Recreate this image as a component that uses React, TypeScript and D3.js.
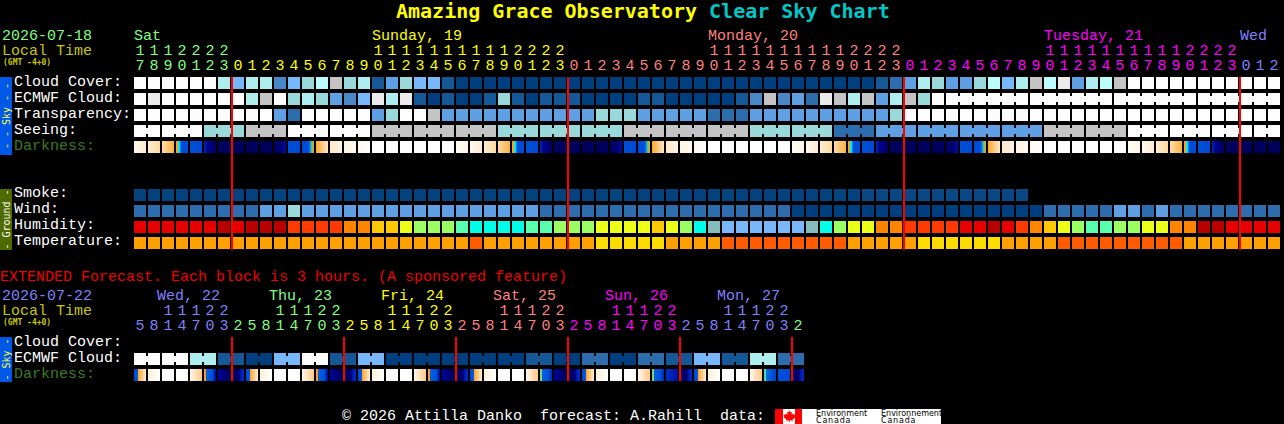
import React from 'react';
import * as d3 from 'd3';

const WIDTH = 1284;
const HEIGHT = 424;
const MONO = '"Liberation Mono", monospace';
const TITLE_FONT = '"DejaVu Sans Mono", monospace';

// one letter per hour block
const codes = (s: string) => s.split(/\s*/);

const cloudCover = codes('WWWWWWDLDD NLTCGTDPMT LLPQQQQQQQ QQQQQQQQQQ QQQQQQQQQQ QQQPOMDTMM TCLDGCEMDC GWWWWWWWWW WW');
const ecmwfCloud = codes('WEWWWWWWDG WTDTMNLEDE PQPQQPTPQP PPQQQQPPQQ QQQPNGNMOE GDGMDGTWWW WWWWWWWWWW WWWWWWWWWW WW');
const transparency = codes('WWWWWWWWWW MOWWWWWMTW WGMMMMMMMM MMMTTTMMMM MOOOMMMMMM MMMMTWWWWW WWWWWWWWWW WWWWWWWWWW WW');
const seeingSpans = [2, 3, 3, 3, 3, 3, 3, 3, 3, 3, 3, 3, 3, 3, 3, 3, 3, 3, 3, 3, 3, 3, 3, 3, 3, 3, 3, 2];
const seeing = codes('WWTGWWGGGTTTGGGTTOMMMMGGWWWW');
const ecmwfSpans = [1, 1, 1, 1, 1, 1, 1, 1, 1, 1, 1, 1, 1, 1, 1, 1, 1, 1, 1, 1, 1, 1, 1, 1, 1, 1, 1, 1, 1, 1, 1, 1, 1, 1, 1, 1, 1, 1, 1, 1, 1, 1, 1, 1, 1, 1, 1, 1, 1, 1, 1, 1, 1, 1, 1, 1, 1, 1, 6, 6, 6, 6];
const darkness = codes('egdsbknnnn hbruvxywww wwwfegdsbk nnnnhbruvx ywwwwwwfeg dsbknnnnhb ruvxywwwww wfegdsbknn nn');
const smoke = codes('SSSSSSSSSS SSSSSSSSSS SSSSSSSSSS SSSSSSSSSS SSSSSSSSSS SSBBBBBBBB BBBB');
const wind = codes('OOOOOOOOOM MTMMMMMMMM MMMMMMMMMO OOOOOOOOOO OOOOOOOQQQ QQQQQQQQQQ QQQQQOOOOO MMOMOOOOOO OO');
const humidity = codes('RRRRRRBRBB BAAAAFFHHY VVVXZZZZXX VVVYYYYHYV ZUJJJJJJUZ VYYFFAAAAR RBRAFHYVXX VVYYFFBBRR RR');
const temperature = codes('aaaaaaaaaa aaaaaaaaaa aaaaoaaaaa aaayyyyyaa aaoooooooo oaaaaayyyy yyaaaaoooo oooooaaaaa aa');

const hours = [17, 18, 19, 20, 21, 22, 23].concat(
  d3.range(3).flatMap(() => d3.range(24)),
  [0, 1, 2],
);
const extHours = d3.range(6).flatMap(() => [5, 8, 11, 14, 17, 20, 23, 2]);

const extEcmwfSpans = d3.range(24).map(() => 2);
const extEcmwf = codes('WWDPQLWPLQQQQQPQOQOPLPDO');
const extDarkness = codes('pVwwqzKH pVwwqzKH pVwwqzKH pVwwqGKH pVwwqGjH pVwwqTbH');

const dayColors = ['#80ff80', '#ffff00', '#ff8080', '#ff00ff', '#8080ff'];
const mainDays = [
  { label: 'Sat', col: 0, color: dayColors[0] },
  { label: 'Sunday, 19', col: 17, color: dayColors[1] },
  { label: 'Monday, 20', col: 41, color: dayColors[2] },
  { label: 'Tuesday, 21', col: 65, color: dayColors[3] },
  { label: 'Wed', col: 79, color: dayColors[4] },
];
const extDays = [
  { label: 'Wed, 22', col: 2, color: '#8080ff' },
  { label: 'Thu, 23', col: 10, color: '#80ff80' },
  { label: 'Fri, 24', col: 18, color: '#ffff00' },
  { label: 'Sat, 25', col: 26, color: '#ff8080' },
  { label: 'Sun, 26', col: 34, color: '#ff00ff' },
  { label: 'Mon, 27', col: 42, color: '#8080ff' },
];
const extDayStarts = [0, 7, 15, 23, 31, 39, 47];
const extDayColors = ['#8080ff', '#80ff80', '#ffff00', '#ff8080', '#ff00ff', '#8080ff', '#80ff80'];

const blockColor = d3
  .scaleOrdinal<string, string>()
  .domain(['W', 'E', 'G', 'C', 'D', 'T', 'L', 'M', 'N', 'O', 'P', 'Q', 'S', 'B', 'R', 'K', 'A', 'F', 'H', 'Y', 'V', 'X', 'Z', 'U', 'J', 'a', 'y', 'o'])
  .range(['#fdfdfd', '#ebebeb', '#c4c4c4', '#bcfcfc', '#aeeeee', '#99d9d9', '#77b7fb', '#5f9fe3', '#4a87c7', '#2d6dad', '#145898', '#003f7f', '#05437f', '#0a4885', '#e60000', '#b80000', '#ff3a00', '#ff8400', '#ffc800', '#ebff17', '#9aff62', '#58ffae', '#00ffe8', '#85bdbd', '#7ab6fa', '#ffa000', '#ffdc00', '#ff5c00']);
// humidity uses its own dark red under the letter B
const humidityColor = (c: string) => (c === 'B' ? '#b80000' : blockColor(c));

const darknessStops: Record<string, [number, string][]> = {
  w: [[0, '#ffffff'], [1, '#ffffff']],
  f: [[0, '#fffdf8'], [1, '#fff4e4']],
  e: [[0, '#fff8ee'], [1, '#ffecd0']],
  g: [[0, '#ffeccf'], [1, '#ffd9a0']],
  d: [[0, '#ffdca8'], [1, '#ffb040']],
  s: [[0, '#ffa020'], [0.15, '#ffa020'], [0.2, '#00e8ff'], [0.33, '#00e8ff'], [0.4, '#0050e0'], [1, '#0048d8']],
  b: [[0, '#0050d8'], [1, '#0048d8']],
  k: [[0, '#0028b8'], [0.3, '#000090'], [1, '#000060']],
  n: [[0, '#000058'], [1, '#000064']],
  h: [[0, '#000060'], [0.6, '#000070'], [1, '#0010a8']],
  r: [[0, '#0048d8'], [0.55, '#0050e0'], [0.7, '#00a0e0'], [0.8, '#60c080'], [1, '#ffa020']],
  u: [[0, '#ffa830'], [1, '#ffe8c8']],
  v: [[0, '#ffe8c8'], [1, '#fff4e4']],
  x: [[0, '#fff4e4'], [1, '#fff9f0']],
  y: [[0, '#fff9f0'], [1, '#fffefc']],
  p: [[0, '#0048d8'], [0.3, '#0058d8'], [0.36, '#ffa830'], [1, '#ffeed8']],
  V: [[0, '#fff0dc'], [1, '#ffffff']],
  q: [[0, '#fff8f0'], [1, '#ffc880']],
  z: [[0, '#ff9820'], [0.15, '#ff9820'], [0.2, '#0060e0'], [0.7, '#0050d8'], [1, '#0000a0']],
  G: [[0, '#80d080'], [0.15, '#80d080'], [0.2, '#0060e0'], [0.7, '#0050d8'], [1, '#0028b8']],
  T: [[0, '#40e0b0'], [0.15, '#40e0b0'], [0.2, '#0070e0'], [0.7, '#0050d8'], [1, '#0040c8']],
  K: [[0, '#0000a0'], [1, '#000058']],
  H: [[0, '#000060'], [0.6, '#000070'], [0.65, '#0010a0'], [1, '#0030d0']],
  j: [[0, '#0030c8'], [1, '#0010a0']],
};

const mainX = d3.scaleBand<number>().domain(d3.range(82)).range([134, 1280]).paddingInner(1 / 7);
const extX = d3.scaleBand<number>().domain(d3.range(48)).range([134, 804]).paddingInner(1 / 7);

const Label = ({ x, y, fill = '#ffffff', children, size = 15, weight, font = MONO }: any) => (
  <text x={x} y={y} fill={fill} fontFamily={font} fontSize={size} fontWeight={weight} xmlSpace="preserve">
    {children}
  </text>
);

const Row = ({ values, y, x, color, spans }: any) => {
  const band = x.bandwidth();
  const links: number[] = [];
  if (spans) {
    let col = 0;
    spans.forEach((n: number) => {
      d3.range(n - 1).forEach((i) => links.push(col + i));
      col += n;
    });
  }
  // blocks spanning several hours hand their colour on to the whole span
  return (
    <g shapeRendering="crispEdges">
      {values.map((c: string, i: number) => (
        <rect key={i} x={x(i)} y={y} width={band} height={12} fill={color(c)} />
      ))}
      {links.map((col) => (
        <rect key={'l' + col} x={x(col) + band} y={y + 3} width={x.step() - band} height={6} fill={color(values[col])} />
      ))}
    </g>
  );
};

const expand = (groupCodes: string[], spans: number[]) =>
  groupCodes.flatMap((c, i) => d3.range(spans[i]).map(() => c));

const DarkRow = ({ values, y, x }: any) => (
  <g shapeRendering="crispEdges">
    {values.map((c: string, i: number) => (
      <rect key={i} x={x(i)} y={y} width={x.bandwidth()} height={12} fill={`url(#dk-${c})`} />
    ))}
  </g>
);

const SideBar = ({ y, h, fill, color, text }: any) => (
  <g>
    <rect x={0} y={y} width={12} height={h} fill={fill} shapeRendering="crispEdges" />
    <text
      transform={`translate(9.5,${y + h / 2}) rotate(-90)`}
      textAnchor="middle"
      fill={color}
      fontFamily={TITLE_FONT}
      fontSize={10}
      xmlSpace="preserve"
    >
      {text}
    </text>
  </g>
);

const HourLabels = ({ x, data, colorAt, yTens, yOnes }: any) => (
  <g fontFamily={MONO} fontSize={15} textAnchor="middle">
    {data.map((h: number, i: number) => {
      const cx = x(i) + x.bandwidth() / 2;
      return (
        <g key={i} fill={colorAt(i)}>
          {h >= 10 && <text x={cx} y={yTens}>{Math.floor(h / 10)}</text>}
          <text x={cx} y={yOnes}>{h % 10}</text>
        </g>
      );
    })}
  </g>
);

const mainHourColor = (i: number) => dayColors[i < 7 ? 0 : Math.floor((i - 7) / 24) + 1];
const extHourColor = (i: number) => extDayColors[d3.bisectRight(extDayStarts, i) - 1];

const App: React.FC = () => {
  const redMain = [7, 31, 55, 79];
  const redExt = [7, 15, 23, 31, 39, 47];
  return (
    <svg
      width={WIDTH}
      height={HEIGHT}
      style={{ position: 'absolute', left: 0, top: 0, background: '#000' }}
    >
      <defs>
        {Object.entries(darknessStops).map(([k, stops]) => (
          <linearGradient key={k} id={`dk-${k}`}>
            {stops.map(([o, c], i) => (
              <stop key={i} offset={o} stopColor={c} />
            ))}
          </linearGradient>
        ))}
      </defs>

      <text x={396} y={18} fontFamily={TITLE_FONT} fontSize={20} fontWeight="bold" xmlSpace="preserve">
        <tspan fill="#ffff00">Amazing Grace Observatory </tspan>
        <tspan fill="#00c8c8">Clear Sky Chart</tspan>
      </text>

      <Label x={2} y={40} fill="#80ff80">2026-07-18</Label>
      <Label x={2} y={55} fill="#c8c800">Local Time</Label>
      <Label x={3} y={65} fill="#c8c800" size={8} weight="bold" font={TITLE_FONT}>(GMT -4+0)</Label>
      {mainDays.map((d) => (
        <Label key={d.label} x={mainX(d.col)} y={40} fill={d.color}>{d.label}</Label>
      ))}
      <HourLabels x={mainX} data={hours} colorAt={mainHourColor} yTens={55} yOnes={70} />

      <SideBar y={77} h={78} fill="#0058e8" color="#ffff40" text="- - Sky - -" />
      <Label x={14} y={86}>Cloud Cover:</Label>
      <Label x={14} y={102}>ECMWF Cloud:</Label>
      <Label x={14} y={118}>Transparency:</Label>
      <Label x={14} y={134}>Seeing:</Label>
      <Label x={14} y={150} fill="#3c7a20">Darkness:</Label>
      <Row values={cloudCover} y={77} x={mainX} color={blockColor} />
      <Row values={ecmwfCloud} y={93} x={mainX} color={blockColor} spans={ecmwfSpans} />
      <Row values={transparency} y={109} x={mainX} color={blockColor} />
      <Row values={expand(seeing, seeingSpans)} y={125} x={mainX} color={blockColor} spans={seeingSpans} />
      <DarkRow values={darkness} y={141} x={mainX} />

      <SideBar y={189} h={61} fill="#4e6a00" color="#ffffff" text="- Ground -" />
      <Label x={14} y={197}>Smoke:</Label>
      <Label x={14} y={213}>Wind:</Label>
      <Label x={14} y={229}>Humidity:</Label>
      <Label x={14} y={245}>Temperature:</Label>
      <Row values={smoke} y={189} x={mainX} color={blockColor} />
      <Row values={wind} y={205} x={mainX} color={blockColor} />
      <Row values={humidity} y={221} x={mainX} color={humidityColor} />
      <Row values={temperature} y={237} x={mainX} color={blockColor} />

      {redMain.map((c) => (
        <rect key={c} x={(mainX(c) as number) - 1} y={77} width={2} height={173} fill="#ff0000" shapeRendering="crispEdges" />
      ))}

      <Label x={0} y={280.5} fill="#f00000">EXTENDED Forecast. Each block is 3 hours. (A sponsored feature)</Label>

      <Label x={2} y={300} fill="#8080ff">2026-07-22</Label>
      <Label x={2} y={315} fill="#c8c800">Local Time</Label>
      <Label x={3} y={325} fill="#c8c800" size={8} weight="bold" font={TITLE_FONT}>(GMT -4+0)</Label>
      {extDays.map((d) => (
        <Label key={d.label} x={(extX(d.col) as number) - 5} y={300} fill={d.color}>{d.label}</Label>
      ))}
      <HourLabels x={extX} data={extHours} colorAt={extHourColor} yTens={315} yOnes={330} />

      <SideBar y={337} h={45} fill="#0058e8" color="#ffff40" text="- Sky -" />
      <Label x={14} y={346}>Cloud Cover:</Label>
      <Label x={14} y={362}>ECMWF Cloud:</Label>
      <Label x={14} y={378} fill="#3c7a20">Darkness:</Label>
      <Row values={expand(extEcmwf, extEcmwfSpans)} y={353} x={extX} color={blockColor} spans={extEcmwfSpans} />
      <DarkRow values={extDarkness} y={369} x={extX} />
      {redExt.map((c) => (
        <rect key={c} x={(extX(c) as number) - 1} y={337} width={2} height={44} fill="#ff0000" shapeRendering="crispEdges" />
      ))}

      <Label x={342} y={420}>© 2026 Attilla Danko  forecast: A.Rahill  data:</Label>

      <g>
        <rect x={775} y={409} width={166} height={15} fill="#ffffff" />
        <rect x={775} y={409} width={8} height={15} fill="#ff0000" />
        <rect x={795} y={409} width={7} height={15} fill="#ff0000" />
        <path
          d="M789 410l1.5 2.5 1.5-.7-.5 3 1.8-1.2.6 1.4 1.6-.3-.7 2 .7.6-3 2.2.4 1.2-3-.4v1.7h-.8v-1.7l-3 .4.4-1.2-3-2.2.7-.6-.7-2 1.6.3.6-1.4 1.8 1.2-.5-3 1.5.7z"
          fill="#ff0000"
        />
        <g fontFamily='"DejaVu Sans", sans-serif' fontSize={8} fill="#000000">
          <text x={816} y={416}>Environment</text>
          <text x={816} y={423} letterSpacing={0.8}>Canada</text>
          <text x={881} y={416}>Environnement</text>
          <text x={881} y={423} letterSpacing={0.8}>Canada</text>
        </g>
      </g>
    </svg>
  );
};

export default App;
